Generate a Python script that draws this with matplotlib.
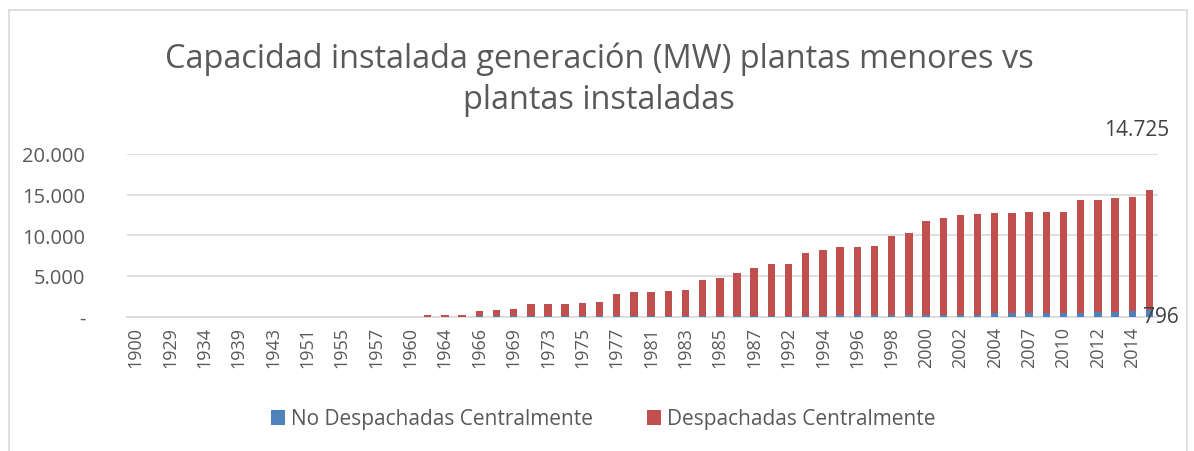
import matplotlib
matplotlib.use('Agg')
import matplotlib.pyplot as plt
import matplotlib as mpl
from matplotlib.patches import Rectangle
from matplotlib.ticker import FuncFormatter

years = [1900, 1910, 1929, 1930, 1934, 1937, 1939, 1940, 1943, 1948,
         1951, 1953, 1955, 1956, 1957, 1958, 1960, 1962, 1964, 1965,
         1966, 1967, 1969, 1971, 1973, 1974, 1975, 1976, 1977, 1979,
         1981, 1982, 1983, 1984, 1985, 1986, 1987, 1988, 1992, 1993,
         1994, 1995, 1996, 1997, 1998, 1999, 2000, 2001, 2002, 2003,
         2004, 2006, 2007, 2008, 2010, 2011, 2012, 2013, 2014, 2015]

# MW
no_desp = [0, 0, 0, 0, 0, 0, 0, 0, 0, 0, 0, 0, 0, 0, 0, 0, 0,
           0, 0, 0, 10, 10, 15, 20, 20, 20, 25, 30, 30, 30, 35,
           40, 45, 50, 60, 70, 80, 90, 90, 100, 110, 150, 150, 150,
           180, 210, 210, 210, 210, 210, 370, 370, 410, 410, 490, 490,
           580, 580, 650, 796]
desp = [0, 0, 0, 0, 0, 0, 0, 0, 0, 0, 0, 0, 0, 0, 0, 0, 0,
        140, 160, 180, 670, 790, 945, 1520, 1550, 1550, 1675, 1720,
        2750, 2960, 2985, 3070, 3225, 4450, 4660, 5300, 5920, 6330,
        6330, 7740, 8060, 8430, 8430, 8520, 9760, 10100, 11490, 11950,
        12320, 12410, 12370, 12370, 12410, 12410, 12410, 13810, 13800,
        14010, 14020, 14725]

BLUE = '#4F81BD'
RED = '#C0504D'
TXT = '#595959'
GRID = '#D9D9D9'

mpl.rc('font', family=['Open Sans', 'DejaVu Sans'])

fig = plt.figure(figsize=(11.94, 4.52), dpi=100)
ax = fig.add_axes([127/1194, 1-317.5/452, 1031/1194, 162.5/452])

x = list(range(len(years)))
ax.bar(x, no_desp, width=0.43, color=BLUE, label='No Despachadas Centralmente', zorder=3)
ax.bar(x, desp, width=0.43, bottom=no_desp, color=RED, label='Despachadas Centralmente', zorder=3)

ax.set_xlim(-0.5, len(years)-0.5)
ax.set_ylim(0, 20000)
ax.set_yticks([0, 5000, 10000, 15000, 20000])
ax.yaxis.set_major_formatter(FuncFormatter(
    lambda v, p: '-' if v == 0 else '{:,}'.format(int(v)).replace(',', '.')))
ax.set_xticks(x[::2])
ax.set_xticklabels([str(y) for y in years[::2]], rotation=90)
ax.tick_params(axis='y', length=0, pad=30, labelsize=14.5, labelcolor=TXT)
ax.tick_params(axis='x', length=0, pad=7, labelsize=13, labelcolor=TXT)
ax.grid(axis='y', color=GRID, linewidth=1.2, zorder=0)
for s in ['top', 'right', 'left']:
    ax.spines[s].set_visible(False)
ax.spines['bottom'].set_color(GRID)
ax.spines['bottom'].set_linewidth(1.2)

# data labels on the last bar
last = len(years) - 1
ax.annotate('{:,}'.format(desp[last]).replace(',', '.'),
            xy=(last, no_desp[last] + desp[last]), xytext=(-9.4, 43.7),
            textcoords='offset points', ha='center', va='center',
            fontsize=15, color='#404040')
ax.annotate(str(no_desp[last]), xy=(last, no_desp[last] / 2), xytext=(8, -2),
            textcoords='offset points', ha='center', va='center',
            fontsize=15, color='#404040')

fig.text(599/1194, 1-80/452,
         'Capacidad instalada generación (MW) plantas menores vs\nplantas instaladas',
         ha='center', va='center', fontsize=23.4, color=TXT, linespacing=1.3)

fig.legend(loc='center', bbox_to_anchor=(603/1194, 1-420/452), ncol=2,
           frameon=False, fontsize=15, handlelength=0.7, handleheight=0.7,
           handletextpad=0.25, columnspacing=2.6, labelcolor=TXT)

fig.patches.append(Rectangle((9/1194, -0.1), 1178/1194, 1.1-11/452,
                             transform=fig.transFigure, fill=False,
                             edgecolor=GRID, linewidth=1.2))

plt.savefig('out.png', dpi=100)
